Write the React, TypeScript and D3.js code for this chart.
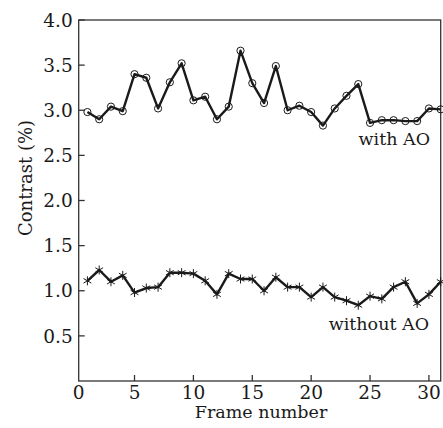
import React from "react";
import * as d3 from "d3";

const frames = d3.range(1, 32);
const withAO = [
  2.98, 2.9, 3.04, 2.99, 3.4, 3.36, 3.02, 3.31, 3.52, 3.11, 3.15, 2.9, 3.04, 3.66, 3.3, 3.08,
  3.49, 3.0, 3.05, 2.98, 2.83, 3.02, 3.16, 3.29, 2.86, 2.89, 2.89, 2.88, 2.88, 3.02, 3.01,
];
const withoutAO = [
  1.11, 1.23, 1.1, 1.17, 0.98, 1.03, 1.04, 1.2, 1.2, 1.19, 1.11, 0.96, 1.19, 1.13, 1.13, 1.0,
  1.15, 1.04, 1.04, 0.93, 1.04, 0.93, 0.89, 0.84, 0.94, 0.91, 1.04, 1.1, 0.86, 0.96, 1.1,
];
const xTicks = [5, 10, 15, 20, 25, 30];
const yTicks = [0.5, 1.0, 1.5, 2.0, 2.5, 3.0, 3.5, 4.0];

const W = 443;
const H = 428;
const left = 78.7;
const right = 440.7;
const top = 20;
const bottom = 381;
const font = "'DejaVu Serif', serif";
const ink = "#1a1a1a";

export default function App() {
  const x = d3.scaleLinear().domain([0.26, 31]).range([left, right]);
  const y = d3.scaleLinear().domain([0, 4]).range([bottom, top]);

  const line = d3
    .line<number>()
    .x((_, i) => x(frames[i]))
    .y((d) => y(d));

  // asterisk marker, 6 arms
  const star = (r: number) =>
    d3
      .range(3)
      .map((k) => {
        const a = (k * Math.PI) / 3 + Math.PI / 2;
        const dx = r * Math.cos(a);
        const dy = r * Math.sin(a);
        return `M${-dx},${-dy}L${dx},${dy}`;
      })
      .join("");

  return (
    <svg
      width={W}
      height={H}
      style={{ position: "absolute", left: 0, top: 0, background: "#fff" }}
    >
      {/* frame */}
      <rect
        x={left}
        y={top}
        width={right - left}
        height={bottom - top}
        fill="none"
        stroke="#333"
        strokeWidth={1.3}
      />
      {/* y ticks */}
      {yTicks.map((t) => (
        <g key={"y" + t}>
          <line x1={left} x2={left + 6} y1={y(t)} y2={y(t)} stroke="#333" strokeWidth={1.3} />
          <text
            x={left - 6}
            y={y(t)}
            dy="0.36em"
            textAnchor="end"
            fontFamily={font}
            fontSize={18.5}
            fill={ink}
          >
            {d3.format(".1f")(t)}
          </text>
        </g>
      ))}
      {/* x ticks */}
      {xTicks.map((t) => (
        <g key={"x" + t}>
          <line x1={x(t)} x2={x(t)} y1={bottom} y2={bottom - 6} stroke="#333" strokeWidth={1.3} />
          <text
            x={x(t)}
            y={398.5}
            textAnchor="middle"
            fontFamily={font}
            fontSize={18.5}
            fill={ink}
          >
            {t}
          </text>
        </g>
      ))}
      <text x={left} y={398.5} textAnchor="middle" fontFamily={font} fontSize={18.5} fill={ink}>
        0
      </text>

      {/* axis titles */}
      <text x={261} y={418} textAnchor="middle" fontFamily={font} fontSize={17.5} fill={ink}>
        Frame number
      </text>
      <text
        transform={`translate(32,178) rotate(-90)`}
        textAnchor="middle"
        fontFamily={font}
        fontSize={18}
        fill={ink}
      >
        Contrast (%)
      </text>

      {/* series */}
      <path d={line(withAO) || ""} fill="none" stroke={ink} strokeWidth={2.4} strokeLinejoin="round" />
      {withAO.map((v, i) => (
        <circle
          key={"a" + i}
          cx={x(frames[i])}
          cy={y(v)}
          r={3.6}
          fill="none"
          stroke={ink}
          strokeWidth={1}
        />
      ))}
      <path
        d={line(withoutAO) || ""}
        fill="none"
        stroke={ink}
        strokeWidth={2.4}
        strokeLinejoin="round"
      />
      {withoutAO.map((v, i) => (
        <path
          key={"b" + i}
          transform={`translate(${x(frames[i])},${y(v)})`}
          d={star(4.5)}
          stroke={ink}
          strokeWidth={1}
        />
      ))}

      {/* series labels */}
      <text x={430} y={145} textAnchor="end" fontFamily={font} fontSize={17.5} fill={ink}>
        with AO
      </text>
      <text x={429} y={330} textAnchor="end" fontFamily={font} fontSize={17.5} fill={ink}>
        without AO
      </text>
    </svg>
  );
}
